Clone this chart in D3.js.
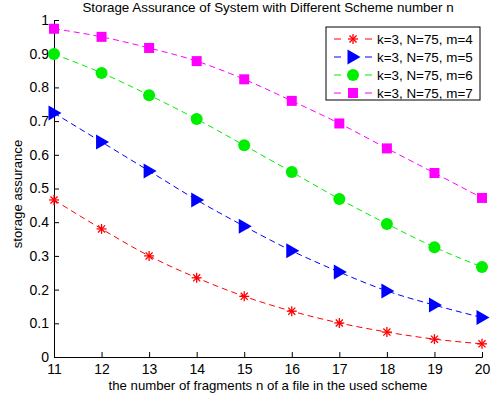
<!DOCTYPE html>
<html>
<head>
<meta charset="utf-8">
<script src="https://cdn.jsdelivr.net/npm/d3@7"></script>
<style>
  body { margin: 0; background: #fff; }
  text { font-family: "Liberation Sans", Arial, sans-serif; fill: #000; }
</style>
</head>
<body>
<svg id="chart"></svg>
<script>
const nValues = [11, 12, 13, 14, 15, 16, 17, 18, 19, 20];
const m4 = [0.466, 0.38, 0.30, 0.235, 0.18, 0.136, 0.101, 0.074, 0.053, 0.039];
const m5 = [0.724, 0.638, 0.552, 0.466, 0.388, 0.315, 0.252, 0.196, 0.154, 0.117];
const m6 = [0.899, 0.843, 0.777, 0.706, 0.628, 0.549, 0.469, 0.395, 0.326, 0.267];
const m7 = [0.974, 0.95, 0.917, 0.878, 0.824, 0.76, 0.693, 0.619, 0.546, 0.472];
const labels = ["k=3, N=75, m=4", "k=3, N=75, m=5", "k=3, N=75, m=6", "k=3, N=75, m=7"];
const yTicks = [0, 0.1, 0.2, 0.3, 0.4, 0.5, 0.6, 0.7, 0.8, 0.9, 1];

const width = 494, height = 398;
const svg = d3.select("#chart").attr("width", width).attr("height", height);

const x = d3.scaleLinear().domain([11, 20]).range([54, 482]);
const y = d3.scaleLinear().domain([0, 1]).range([357, 20]);

const series = [
  { values: m4, color: "#ff0000", marker: "star" },
  { values: m5, color: "#0000ff", marker: "triangle" },
  { values: m6, color: "#00ee00", marker: "circle" },
  { values: m7, color: "#ff00ff", marker: "square" }
];

// axes (matlab style, box off, ticks inward)
const xAxis = svg.append("g")
  .attr("transform", `translate(0,${y(0)})`)
  .call(d3.axisBottom(x).tickValues(nValues).tickSize(-5).tickPadding(7).tickFormat(d3.format("d")));
const yAxis = svg.append("g")
  .attr("transform", `translate(${x(11)},0)`)
  .call(d3.axisLeft(y).tickValues(yTicks).tickSize(-5).tickPadding(5).tickFormat(d => d === 0 ? "0" : d === 1 ? "1" : d3.format(".1f")(d)));
[xAxis, yAxis].forEach(a => {
  a.selectAll("text").attr("font-size", 14).style("font-family", "Liberation Sans, Arial, sans-serif");
  a.select(".domain").attr("stroke", "#000");
  a.selectAll(".tick line").attr("stroke", "#000");
});

function drawMarker(g, type, color) {
  if (type === "star") {
    const r = 5;
    [0, 45, 90, 135].forEach(a => {
      const rad = a * Math.PI / 180;
      g.append("line")
        .attr("x1", -r * Math.cos(rad)).attr("y1", -r * Math.sin(rad))
        .attr("x2", r * Math.cos(rad)).attr("y2", r * Math.sin(rad))
        .attr("stroke", color).attr("stroke-width", 1.3);
    });
  } else if (type === "triangle") {
    g.append("path").attr("d", "M-5.5,-7.5L7.5,0L-5.5,7.5Z").attr("fill", color);
  } else if (type === "circle") {
    g.append("circle").attr("r", 6).attr("fill", color);
  } else {
    g.append("rect").attr("x", -5).attr("y", -5).attr("width", 10).attr("height", 10).attr("fill", color);
  }
}

const line = d3.line().x((d, i) => x(nValues[i])).y(d => y(d)).curve(d3.curveMonotoneX);

series.forEach(s => {
  svg.append("path")
    .datum(s.values)
    .attr("d", line)
    .attr("fill", "none")
    .attr("stroke", s.color)
    .attr("stroke-width", 1)
    .attr("stroke-dasharray", "6,4");
  s.values.forEach((v, i) => {
    const g = svg.append("g").attr("transform", `translate(${x(nValues[i])},${y(v)})`);
    drawMarker(g, s.marker, s.color);
  });
});

// title
svg.append("text")
  .attr("x", 268).attr("y", 12)
  .attr("text-anchor", "middle")
  .attr("font-size", 13.4)
  .text("Storage Assurance of System with Different Scheme number n");

// axis labels
svg.append("text")
  .attr("x", 268).attr("y", 390)
  .attr("text-anchor", "middle")
  .attr("font-size", 13.2)
  .text("the number of fragments n of a file in the used scheme");
svg.append("text")
  .attr("transform", "translate(22,194) rotate(-90)")
  .attr("text-anchor", "middle")
  .attr("font-size", 13.2)
  .text("storage assurance");

// legend
const legend = svg.append("g");
legend.append("rect")
  .attr("x", 326).attr("y", 27).attr("width", 154).attr("height", 73)
  .attr("fill", "#fff").attr("stroke", "#000").attr("stroke-width", 1);
series.forEach((s, i) => {
  const ly = 39 + i * 18;
  legend.append("line")
    .attr("x1", 334).attr("x2", 341).attr("y1", ly).attr("y2", ly)
    .attr("stroke", s.color);
  legend.append("line")
    .attr("x1", 365).attr("x2", 372).attr("y1", ly).attr("y2", ly)
    .attr("stroke", s.color);
  const g = legend.append("g").attr("transform", `translate(353,${ly})`);
  drawMarker(g, s.marker, s.color);
  legend.append("text")
    .attr("x", 377).attr("y", ly + 4.5)
    .attr("font-size", 13.4)
    .text(labels[i]);
});
</script>
</body>
</html>
